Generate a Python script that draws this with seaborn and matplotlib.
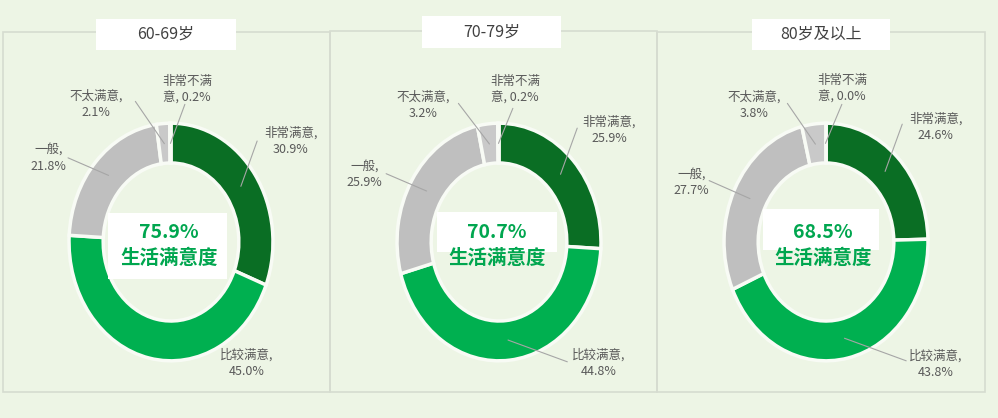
import numpy as np
import pandas as pd
import matplotlib
matplotlib.use("Agg")
import matplotlib.pyplot as plt
import seaborn as sns
from matplotlib.patches import Rectangle

# ---------------- data ----------------
categories = ["非常满意", "比较满意", "一般", "不太满意", "非常不满意"]
groups = ["60-69岁", "70-79岁", "80岁及以上"]
vals_60 = [30.9, 45.0, 21.8, 2.1, 0.2]
vals_70 = [25.9, 44.8, 25.9, 3.2, 0.2]
vals_80 = [24.6, 43.8, 27.7, 3.8, 0.0]
satisfaction = [75.9, 70.7, 68.5]
center_caption = "生活满意度"

# ---------------- style ----------------
sns.set_theme(style="white")
plt.rcParams['font.family'] = ['Noto Sans CJK SC', 'DejaVu Sans']

BG = "#EDF5E5"
BORDER = "#D6DCD0"
LABEL_C = "#595959"
GREEN_TXT = "#00A64F"
GAP = "#F8FBF5"
colors = ["#0A6E24", "#00B050", "#BFBFBF", "#C9C9C9", "#D5D5D5"]

W, H = 998, 418
fig = plt.figure(figsize=(W / 100, H / 100), dpi=100)
fig.patch.set_facecolor(BG)


def fx(x):
    return x / W


def fy(y):
    return 1 - y / H


def fig_rect(x0, y0, x1, y1, **kw):
    fig.add_artist(Rectangle((fx(x0), fy(y1)), (x1 - x0) / W, (y1 - y0) / H,
                             transform=fig.transFigure, **kw))


# layout (pixel positions)
panels = [(3, 32, 330, 392), (330, 31, 657, 392), (657, 32, 985, 392)]
title_boxes = [(96, 19, 236, 50), (422, 16, 561, 48), (752, 19, 890, 50)]
centers = [(171, 242), (499, 242), (826, 242)]
RX, RY = 103, 120
center_boxes = [(108, 213, 227, 279), (437, 212, 557, 252), (763, 209, 879, 250)]
center_text_x = [169, 497, 823]

label_pos = [
    [(292, 140), (247, 364), (47, 157), (95, 103), (187, 88)],
    [(610, 129), (600, 364), (363, 174), (422, 104), (515, 88)],
    [(937, 126), (937, 365), (690, 182), (753, 104), (842, 87)],
]
leader_end = [
    [(258, 140), None, (67, 157), (135, 100), (185, 103)],
    [(578, 127), (568, 363), (385, 173), (458, 102), (513, 107)],
    [(903, 123), (907, 362), (708, 180), (787, 102), (842, 103)],
]

all_vals = [vals_60, vals_70, vals_80]

for i in range(3):
    x0, y0, x1, y1 = panels[i]
    fig_rect(x0, y0, x1, y1, facecolor="none", edgecolor=BORDER, linewidth=1.2)

for i in range(3):
    df = pd.DataFrame({"category": categories, "value": all_vals[i]})
    cx, cy = centers[i]
    ax = fig.add_axes([fx(cx - RX), fy(cy + RY), 2 * RX / W, 2 * RY / H])
    ax.set_facecolor("none")
    wedges, _ = ax.pie(df["value"], colors=colors, startangle=90, counterclock=False,
                       radius=1.0,
                       wedgeprops=dict(width=0.335, edgecolor=GAP, linewidth=2.5))
    ax.set_xlim(-1.01, 1.01)
    ax.set_ylim(-1.01, 1.01)
    ax.set_aspect("auto")
    ax.axis("off")

    cum = 0.0
    for j, (cat, v) in enumerate(zip(df["category"], df["value"])):
        mid = 90 - (cum + v / 2) / 100 * 360
        cum += v
        if cat == "非常不满意":
            txt = f"非常不满\n意, {v:.1f}%"
        else:
            txt = f"{cat},\n{v:.1f}%"
        lx, ly = label_pos[i][j]
        tx, ty = (lx - cx) / RX, (cy - ly) / RY
        ax.text(tx, ty, txt, ha="center", va="center", fontsize=9, color=LABEL_C,
                linespacing=1.35, clip_on=False)
        end = leader_end[i][j]
        if end is not None:
            r = 0.83
            sx, sy = r * np.cos(np.radians(mid)), r * np.sin(np.radians(mid))
            ex, ey = (end[0] - cx) / RX, (cy - end[1]) / RY
            ax.plot([sx, ex], [sy, ey], color="#A6A6A6", linewidth=0.8, clip_on=False)

    # center white box & text
    bx0, by0, bx1, by1 = center_boxes[i]
    fig_rect(bx0, by0, bx1, by1, facecolor="white", edgecolor="none", zorder=1)
    fig.text(fx(center_text_x[i]), fy(232), f"{satisfaction[i]:.1f}%", ha="center", va="center",
             fontsize=14, fontweight="bold", color=GREEN_TXT, zorder=5)
    fig.text(fx(center_text_x[i]), fy(258), center_caption, ha="center", va="center",
             fontsize=14, fontweight="bold", color=GREEN_TXT, zorder=5)

for i in range(3):
    x0, y0, x1, y1 = title_boxes[i]
    fig_rect(x0, y0, x1, y1, facecolor="white", edgecolor="none", zorder=3)
    fig.text(fx((x0 + x1) / 2), fy((y0 + y1) / 2), groups[i], ha="center", va="center",
             fontsize=11.5, color="#404040", zorder=5)

fig.savefig("out.png", dpi=100, facecolor=BG)
